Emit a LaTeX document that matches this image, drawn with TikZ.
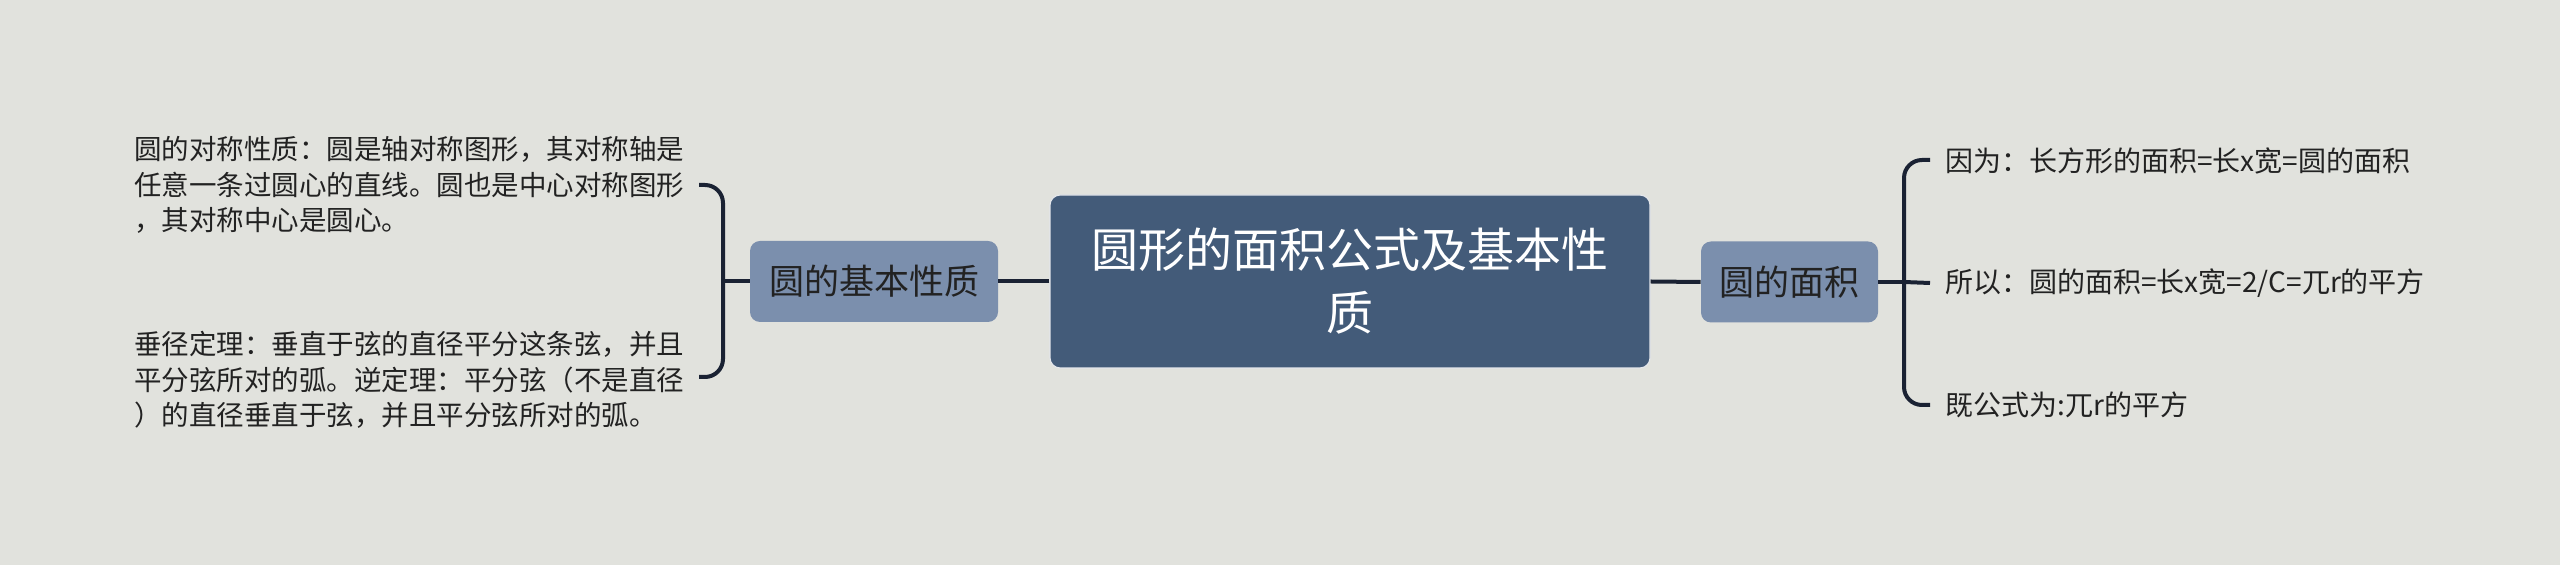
\documentclass[tikz,border=0pt]{standalone}
\usepackage{fontspec}
\setmainfont{Noto Sans CJK SC}
\definecolor{bgc}{HTML}{E1E2DD}
\definecolor{rootc}{HTML}{435B79}
\definecolor{subc}{HTML}{7B8FAD}
\definecolor{linec}{HTML}{1A2233}
\definecolor{txtc}{HTML}{222222}
\tikzset{
  rootbox/.style={rectangle, rounded corners=5pt, fill=rootc, draw=white!85!rootc, line width=0.6pt,
    text=white, font=\fontsize{23.5}{31.5}\selectfont, align=center,
    minimum width=300pt, minimum height=86.5pt, inner sep=0pt},
  subbox/.style={rectangle, rounded corners=5pt, fill=subc, draw=none,
    text=txtc, font=\fontsize{17.5}{22}\selectfont, minimum height=40.5pt, inner sep=0pt},
  leaf/.style={anchor=west, inner sep=0pt, text=txtc, align=left,
    font=\fontsize{13.75}{17.75}\selectfont},
  rleaf/.style={leaf, font=\fontsize{14}{17.75}\selectfont},
  conn/.style={draw=linec, line width=2pt},
  brace/.style={draw=linec, line width=2pt, rounded corners=9pt},
}
\begin{document}
\begin{tikzpicture}[x=0.5pt,y=-0.5pt]
\fill[bgc] (0,0) rectangle (2560,565);
\useasboundingbox (0,0) rectangle (2560,565);

\node[rootbox] (root) at (1350,281.5) {圆形的面积公式及基本性\\质};
\node[subbox, minimum width=124pt] (L) at (874,281.5) {圆的基本性质};
\node[subbox, minimum width=88.5pt] (R) at (1789.5,282) {圆的面积};

\node[leaf] (l1) at (134,185) {圆的对称性质：圆是轴对称图形，其对称轴是\\任意一条过圆心的直线。圆也是中心对称图形\\，其对称中心是圆心。};
\node[leaf] (l2) at (134,380) {垂径定理：垂直于弦的直径平分这条弦，并且\\平分弦所对的弧。逆定理：平分弦（不是直径\\）的直径垂直于弦，并且平分弦所对的弧。};

\node[rleaf] (r1) at (1945,161) {因为：长方形的面积=长x宽=圆的面积};
\node[rleaf] (r2) at (1945,283) {所以：圆的面积=长x宽=2/C=兀r的平方};
\node[rleaf] (r3) at (1945,405) {既公式为:兀r的平方};

\draw[conn] (root.west) -- (L.east);
\draw[conn] (root.east) -- (R.west);

\coordinate (lj) at (723,281.5);
\coordinate (le1) at (699,185);
\coordinate (le2) at (699,377);
\draw[conn] (L.west) -- (lj);
\draw[brace] (le1) -| (lj) |- (le2);

\coordinate (rj) at (1904,282);
\coordinate (re1) at (1930,160);
\coordinate (re2) at (1930,283);
\coordinate (re3) at (1930,405);
\draw[conn] (R.east) -- (rj);
\draw[brace] (re1) -| (rj) |- (re3);
\draw[conn] (rj) -- (re2);
\end{tikzpicture}
\end{document}
